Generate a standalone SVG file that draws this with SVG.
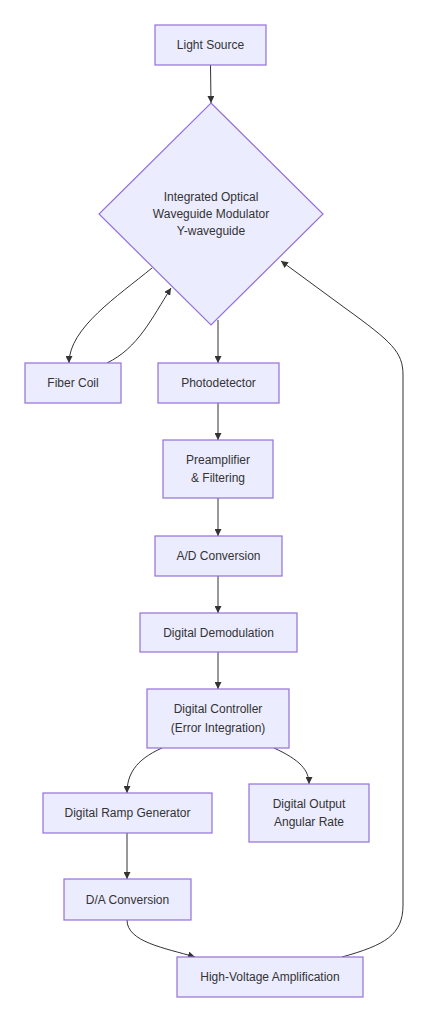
<svg xmlns="http://www.w3.org/2000/svg" width="429" height="1022" viewBox="0 0 429 1022">
<style>
.n rect,.n polygon{fill:#ECECFF;stroke:#9370DB;stroke-width:1.2}
.n text{font-family:"Liberation Sans",Arial,sans-serif;font-size:12px;fill:#333;text-anchor:middle;dominant-baseline:central}
.e path{fill:none;stroke:#333;stroke-width:1}
</style>
<defs>
<marker id="ah" viewBox="0 0 10 10" refX="10" refY="5" markerWidth="7" markerHeight="7" markerUnits="userSpaceOnUse" orient="auto">
<path d="M0,0 L10,5 L0,10 z" fill="#333"/>
</marker>
</defs>
<rect width="429" height="1022" fill="#fff"/>
<g class="e" id="edges">
<path d="M210.5,65 L211,103" marker-end="url(#ah)"/>
<path d="M152,268 C118,296 69,328 69,363" marker-end="url(#ah)"/>
<path d="M107,363 C138,348 152,318 171,288" marker-end="url(#ah)"/>
<path d="M218,320 L218,363" marker-end="url(#ah)"/>
<path d="M218,403 L218,440" marker-end="url(#ah)"/>
<path d="M218,498 L218,536" marker-end="url(#ah)"/>
<path d="M218,576 L218,613" marker-end="url(#ah)"/>
<path d="M218,652 L218,689" marker-end="url(#ah)"/>
<path d="M162,748 C135,760 127,775 127,793" marker-end="url(#ah)"/>
<path d="M274,748 C300,760 309,770 309,784" marker-end="url(#ah)"/>
<path d="M127,833 L127,879" marker-end="url(#ah)"/>
<path d="M127,920 C127,942 165,948 195,957" marker-end="url(#ah)"/>
<path d="M342,957 C385,945 403,935 403,905 L403,375 C403,352 392,342 345,308 L281,261" marker-end="url(#ah)"/>
</g>
<g class="n" id="light"><rect x="155" y="25" width="111" height="40"/><text x="210.5" y="45">Light Source</text></g>
<g class="n" id="iowm"><polygon points="211,103 323,214 211,325 99,214"/><text x="211" y="197">Integrated Optical</text><text x="211" y="214">Waveguide Modulator</text><text x="211" y="231">Y-waveguide</text></g>
<g class="n" id="coil"><rect x="25" y="363" width="96" height="40"/><text x="73" y="383">Fiber Coil</text></g>
<g class="n" id="pd"><rect x="158" y="363" width="121" height="40"/><text x="218.5" y="383">Photodetector</text></g>
<g class="n" id="pre"><rect x="163" y="440" width="110" height="58"/><text x="218" y="460">Preamplifier</text><text x="218" y="478">&amp; Filtering</text></g>
<g class="n" id="adc"><rect x="155" y="536" width="127" height="40"/><text x="218.5" y="556">A/D Conversion</text></g>
<g class="n" id="demod"><rect x="140" y="613" width="157" height="39"/><text x="218.5" y="632.5">Digital Demodulation</text></g>
<g class="n" id="ctrl"><rect x="147" y="689" width="142" height="59"/><text x="218" y="709">Digital Controller</text><text x="218" y="728">(Error Integration)</text></g>
<g class="n" id="ramp"><rect x="43" y="793" width="169" height="40"/><text x="127.5" y="813">Digital Ramp Generator</text></g>
<g class="n" id="out"><rect x="249" y="784" width="120" height="58"/><text x="309" y="804">Digital Output</text><text x="309" y="822">Angular Rate</text></g>
<g class="n" id="dac"><rect x="64" y="879" width="127" height="41"/><text x="127.5" y="899.5">D/A Conversion</text></g>
<g class="n" id="hv"><rect x="177" y="957" width="186" height="40"/><text x="270" y="977">High-Voltage Amplification</text></g>
</svg>
